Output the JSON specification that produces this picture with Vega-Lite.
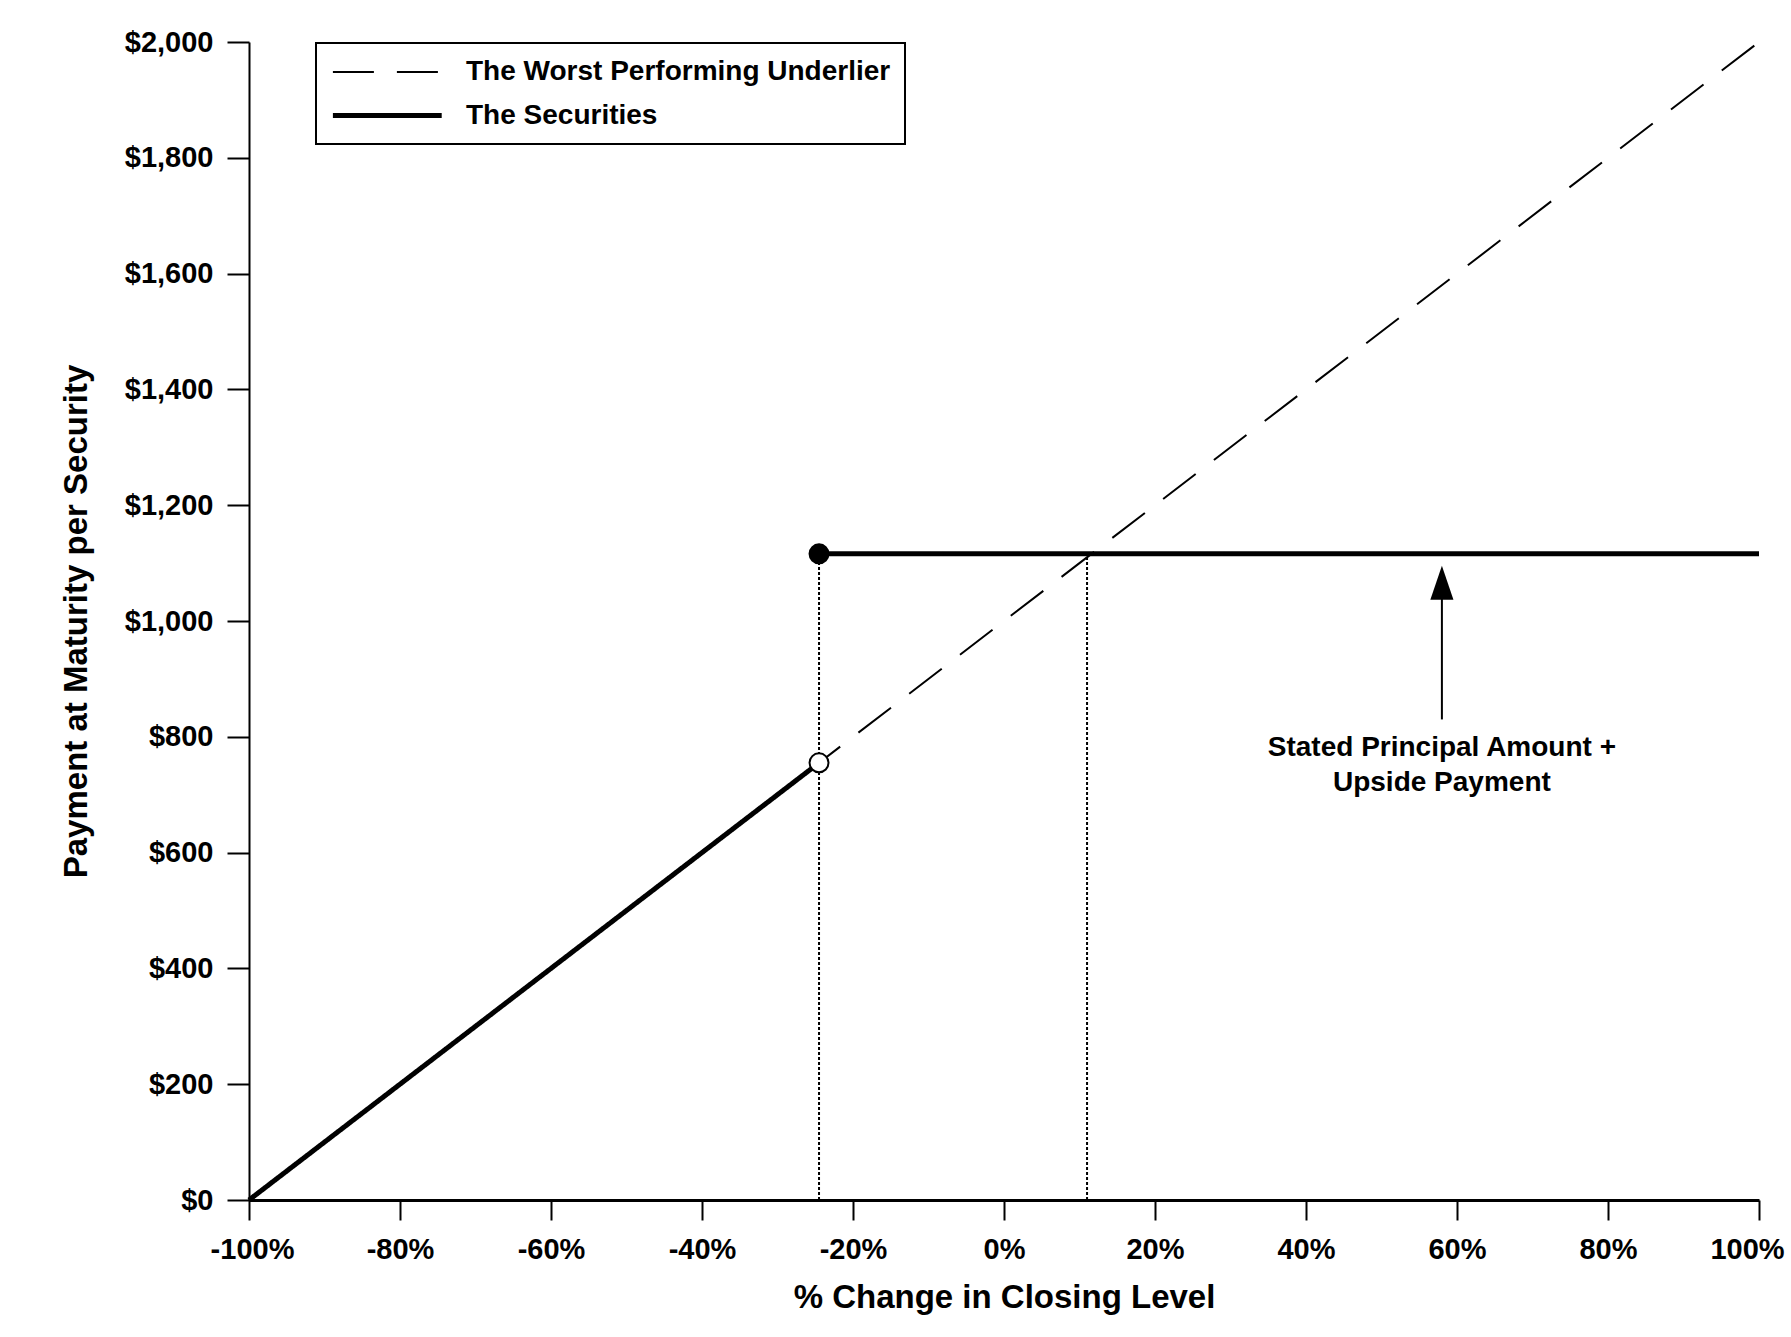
{
  "$schema": "https://vega.github.io/schema/vega-lite/v6.json",
  "width": 1510,
  "height": 1158,
  "autosize": {"type": "none"},
  "padding": {"left": 249, "top": 42, "right": 32, "bottom": 137},
  "background": "white",
  "datasets": {
    "lines": [
      {"series": "The Worst Performing Underlier", "segment": "u", "pct": -100, "pay": 0},
      {"series": "The Worst Performing Underlier", "segment": "u", "pct": 100, "pay": 2000},
      {"series": "The Securities", "segment": "s1", "pct": -100, "pay": 0},
      {"series": "The Securities", "segment": "s1", "pct": -24.5, "pay": 755},
      {"series": "The Securities", "segment": "s2", "pct": -24.5, "pay": 1116},
      {"series": "The Securities", "segment": "s2", "pct": 100, "pay": 1116}
    ],
    "guides": [
      {"pct": -24.5, "pay": 0, "pay2": 1116},
      {"pct": 11, "pay": 0, "pay2": 1116}
    ],
    "points": [
      {"kind": "filled", "pct": -24.5, "pay": 1116},
      {"kind": "open", "pct": -24.5, "pay": 755}
    ],
    "arrow": [
      {"pct": 58, "pay": 830, "pay2": 1040}
    ],
    "head": [
      {"pct": 58, "pay": 1066}
    ],
    "note": [
      {"pct": 58, "pay": 767, "label": "Stated Principal Amount +\nUpside Payment"}
    ]
  },
  "encoding": {
    "x": {
      "field": "pct",
      "type": "quantitative",
      "scale": {"domain": [-100, 100], "nice": false, "zero": false},
      "axis": {
        "title": "% Change in Closing Level",
        "values": [-100, -80, -60, -40, -20, 0, 20, 40, 60, 80, 100],
        "labelExpr": "datum.value + '%'",
        "labelFlush": false,
        "labelOffset": {
          "condition": [
            {"test": "datum.value === 100", "value": -12},
            {"test": "datum.value === -100", "value": 3}
          ],
          "value": 0
        },
        "grid": false,
        "domainWidth": 3,
        "labelPadding": 15,
        "titlePadding": 17
      }
    },
    "y": {
      "field": "pay",
      "type": "quantitative",
      "scale": {"domain": [0, 2000], "nice": false},
      "axis": {
        "title": "Payment at Maturity per Security",
        "values": [0, 200, 400, 600, 800, 1000, 1200, 1400, 1600, 1800, 2000],
        "format": "$,.0f",
        "grid": false,
        "domainWidth": 2,
        "labelPadding": 14,
        "titlePadding": 31
      }
    }
  },
  "layer": [
    {
      "data": {"name": "guides"},
      "mark": {"type": "rule", "color": "black", "strokeWidth": 2, "strokeDash": [3, 2]},
      "encoding": {"y2": {"field": "pay2"}}
    },
    {
      "data": {"name": "lines"},
      "mark": {"type": "line", "color": "black"},
      "encoding": {
        "detail": {"field": "segment"},
        "strokeDash": {
          "field": "series",
          "type": "nominal",
          "scale": {
            "domain": ["The Worst Performing Underlier", "The Securities"],
            "range": [[41, 23], [1, 0]]
          },
          "legend": {
            "title": null,
            "orient": "none",
            "legendX": 67,
            "legendY": 1,
            "strokeColor": "black",
            "padding": 14,
            "rowPadding": 13,
            "symbolType": "M-1,0H7",
            "symbolSize": 740,
            "symbolStrokeColor": "black",
            "symbolFillColor": "transparent",
            "labelFontSize": 28,
            "labelFontWeight": "bold",
            "labelOffset": 103,
            "labelLimit": 600,
            "encode": {"legend": {"update": {"strokeWidth": {"value": 2}}}}
          }
        },
        "strokeWidth": {
          "field": "series",
          "type": "nominal",
          "scale": {
            "domain": ["The Worst Performing Underlier", "The Securities"],
            "range": [2, 5]
          }
        }
      }
    },
    {
      "data": {"name": "points"},
      "mark": {"type": "point", "filled": true, "size": 360, "stroke": "black", "strokeWidth": 2, "opacity": 1},
      "encoding": {
        "fill": {
          "field": "kind",
          "type": "nominal",
          "scale": {"domain": ["filled", "open"], "range": ["black", "white"]},
          "legend": null
        }
      }
    },
    {
      "data": {"name": "arrow"},
      "mark": {"type": "rule", "color": "black", "strokeWidth": 2},
      "encoding": {"y2": {"field": "pay2"}}
    },
    {
      "data": {"name": "head"},
      "mark": {
        "type": "point",
        "shape": "M0,-1L0.68,1L-0.68,1Z",
        "size": 1156,
        "filled": true,
        "color": "black",
        "opacity": 1
      }
    },
    {
      "data": {"name": "note"},
      "mark": {
        "type": "text",
        "lineBreak": "\n",
        "fontSize": 28,
        "fontWeight": "bold",
        "lineHeight": 35,
        "align": "center",
        "baseline": "alphabetic",
        "color": "black"
      },
      "encoding": {"text": {"field": "label"}}
    }
  ],
  "config": {
    "font": "Liberation Sans",
    "view": {"stroke": null},
    "axis": {
      "domainColor": "black",
      "tickColor": "black",
      "tickWidth": 2,
      "labelColor": "black",
      "labelFontSize": 29,
      "labelFontWeight": "bold",
      "titleColor": "black",
      "titleFontSize": 33,
      "titleFontWeight": "bold"
    },
    "axisX": {"tickSize": 20},
    "axisY": {"tickSize": 22},
    "legend": {"labelColor": "black"}
  }
}
